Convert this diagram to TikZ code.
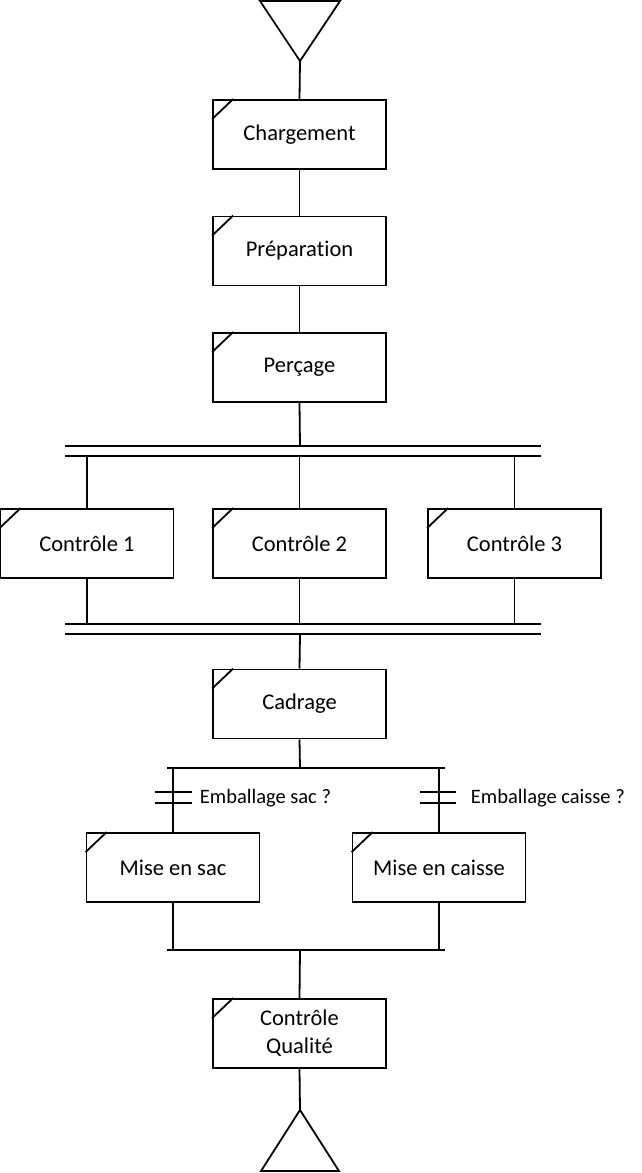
\documentclass[tikz,border=0pt]{standalone}
\usepackage{fontspec}
\setmainfont{Carlito}[Ligatures=NoCommon]
\begin{document}
\begin{tikzpicture}[x=1bp,y=-1bp,line width=1.8bp,
  stepbox/.style={draw,line width=1.8bp,minimum width=173bp,minimum height=69bp,inner sep=0pt,
    font=\fontsize{22.5bp}{28bp}\selectfont,align=center},
  lbl/.style={font=\fontsize{20.5bp}{24bp}\selectfont,anchor=west,inner sep=0pt}]
\useasboundingbox (0,0) rectangle (642,1173);
% start triangle
\coordinate (ts) at (300,61);
\draw[line join=miter] (260,1) -- (340,1) -- (ts) -- cycle;
% steps
\node[stepbox] (charg) at (299.5,134.5) {Chargement};
\node[stepbox] (prep) at (299.5,251) {Préparation};
\node[stepbox] (perc) at (299.5,367.5) {Perçage};
\node[stepbox] (c1) at (87,543.5) {Contrôle 1};
\node[stepbox] (c2) at (299.5,543.5) {Contrôle 2};
\node[stepbox] (c3) at (514.5,543.5) {Contrôle 3};
\node[stepbox] (cad) at (299.5,704) {Cadrage};
\node[stepbox] (sac) at (173,867.5) {Mise en sac};
\node[stepbox] (cai) at (439,867.5) {Mise en caisse};
\node[stepbox] (cq) at (299.5,1033.5) {Contrôle\\Qualité};
\foreach \n in {charg,prep,perc,c1,c2,c3,cad,sac,cai,cq}
  \draw ([yshift=-20bp]\n.north west) -- ([xshift=21bp]\n.north west);
% end triangle
\coordinate (te) at (300,1110);
\draw[line join=miter] (te) -- (339,1171) -- (261,1171) -- cycle;
% sequence links
\draw (ts) -- (charg.north);
\draw (charg.south) -- (prep.north);
\draw (prep.south) -- (perc.north);
% simultaneous divergence
\coordinate (d1) at (300,446);
\coordinate (d2) at (300,456);
\draw (65,446) -- (541,446);
\draw (65,456) -- (541,456);
\draw (perc.south) -- (d1);
\foreach \n in {c1,c2,c3} \draw (\n.north |- d2) -- (\n.north);
% simultaneous convergence
\coordinate (e1) at (300,624);
\coordinate (e2) at (300,634);
\draw (65,624) -- (541,624);
\draw (65,634) -- (541,634);
\foreach \n in {c1,c2,c3} \draw (\n.south) -- (\n.south |- e1);
\draw (e2) -- (cad.north);
% selective divergence
\coordinate (o1) at (300,768);
\draw (cad.south) -- (o1);
\draw (167,768) -- (445,768);
\draw (sac.north |- o1) -- (sac.north);
\draw (cai.north |- o1) -- (cai.north);
\draw (155,792) -- (192,792);
\draw (155,803) -- (192,803);
\draw (420,792) -- (456,792);
\draw (420,803) -- (456,803);
\node[lbl] (t1) at (199,798) {Emballage sac ?};
\node[lbl] (t2) at (470,798) {Emballage caisse ?};
% selective convergence
\coordinate (o2) at (300,950);
\draw (167,950) -- (445,950);
\draw (sac.south) -- (sac.south |- o2);
\draw (cai.south) -- (cai.south |- o2);
\draw (o2) -- (cq.north);
\draw (cq.south) -- (te);
\end{tikzpicture}
\end{document}
